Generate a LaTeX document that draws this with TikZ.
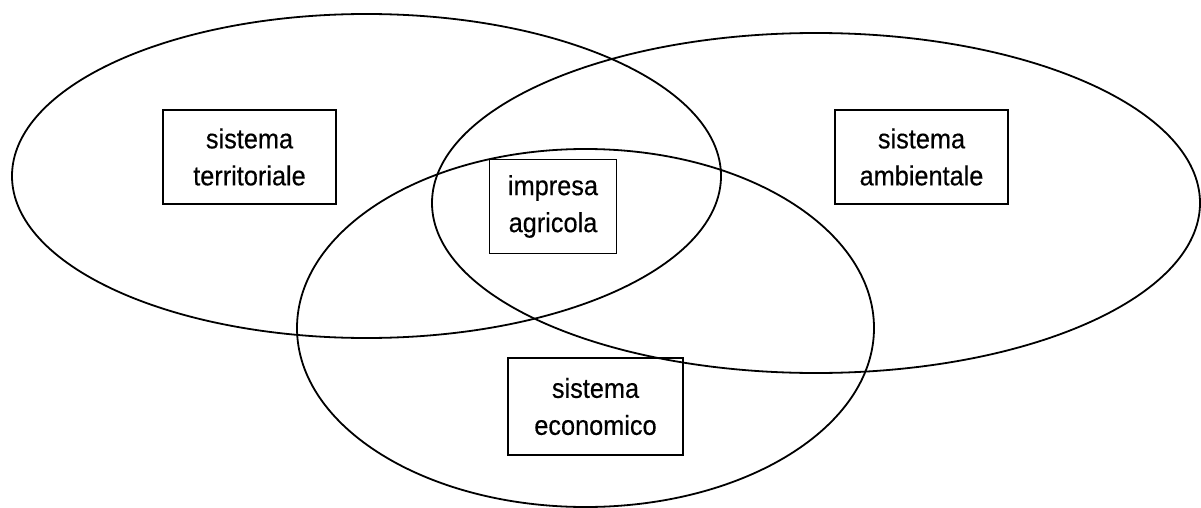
\documentclass[tikz,border=0pt]{standalone}
\usepackage{fontspec}
\setmainfont{Liberation Sans}
\newfontfamily\boxfont[FakeStretch=0.92,FakeBold=0.4]{Liberation Sans}
\begin{document}
\begin{tikzpicture}[x=1pt,y=-1pt,
  ring/.style={draw=black,line width=1.8pt},
  labelbox/.style={draw=black,line width=1.8pt,rectangle,inner sep=0pt,align=center,
    font=\boxfont\fontsize{27.5}{37}\selectfont,minimum height=94pt}]
\useasboundingbox (0,0) rectangle (1201,508);
\coordinate (cT) at (366.5,176);
\coordinate (cA) at (816,203);
\coordinate (cE) at (585.5,328);
\draw[ring] (cT) ellipse [x radius=354.5pt, y radius=162pt];
\draw[ring] (cA) ellipse [x radius=384pt, y radius=170pt];
\draw[ring] (cE) ellipse [x radius=288.5pt, y radius=179pt];
\node[labelbox,minimum width=173pt] (terr) at (249.5,157) {sistema\\territoriale};
\node[labelbox,minimum width=127pt] (impr) at (553,206.5) {impresa\\agricola};
\node[labelbox,minimum width=173pt] (amb) at (921.5,157) {sistema\\ambientale};
\node[labelbox,minimum width=175pt,minimum height=97pt] (eco) at (595.5,406.5) {sistema\\economico};
\end{tikzpicture}
\end{document}
